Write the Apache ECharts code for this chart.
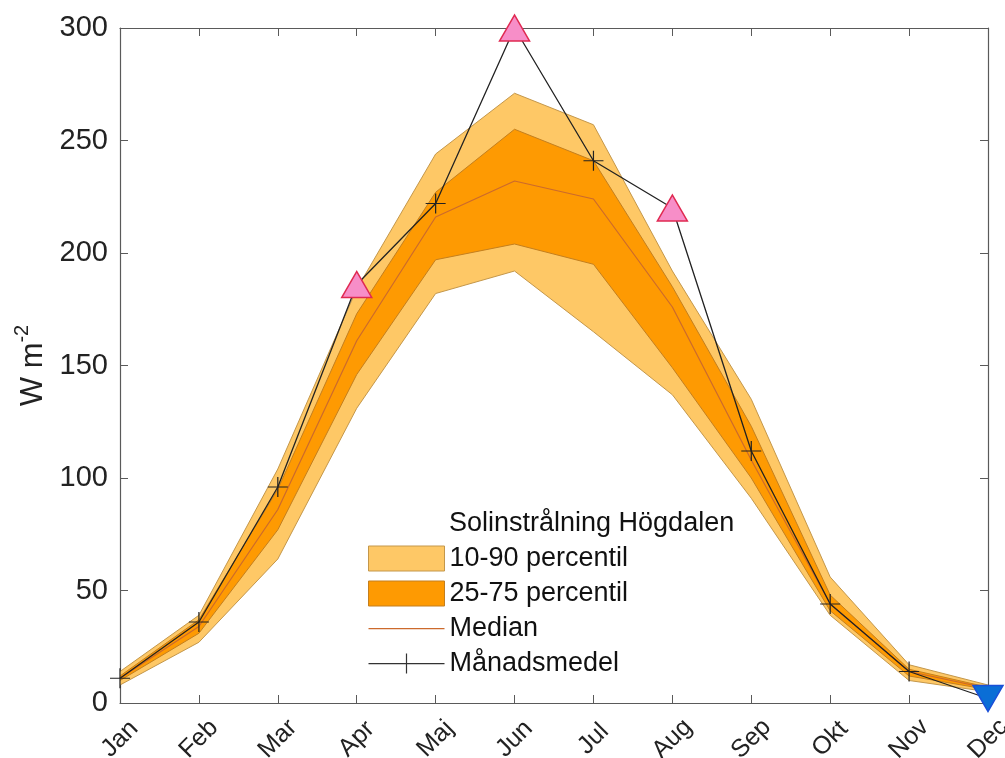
<!DOCTYPE html>
<html>
<head>
<meta charset="utf-8">
<script src="https://cdn.jsdelivr.net/npm/echarts@6/dist/echarts.min.js"></script>
<style>
html,body{margin:0;padding:0;background:#fff;overflow:hidden;}
#chart{width:1005px;height:758px;}
</style>
</head>
<body>
<div id="chart"></div>
<script>
const months = ['Jan','Feb','Mar','Apr','Maj','Jun','Jul','Aug','Sep','Okt','Nov','Dec'];
const yTicks = [0, 50, 100, 150, 200, 250, 300];
const p10    = [8, 27, 64, 131, 182, 192, 165, 137, 91, 39, 10, 5];
const p25    = [10, 31, 77, 146, 197, 204, 195, 149, 100, 41, 12, 6];
const median = [11, 34, 86, 161, 216, 232, 224, 176, 108, 44, 14, 6.5];
const p75    = [12, 37, 95, 173, 227, 255, 241, 185, 123, 48, 15, 7];
const p90    = [14, 39, 104, 184, 244, 271, 257, 192, 135, 56, 17, 8];
const mean   = [11, 36, 96, 186, 222, 300, 241, 220, 112, 44, 14, 2];
const recordHigh = ['Apr', 'Jun', 'Aug'];
const recordLow  = ['Dec'];

const FONT = '"Liberation Sans", Arial, Helvetica, sans-serif';
const LIGHT = '#FEC866';
const DARK = '#FE9A02';
const EDGE_OUT = '#C4974A';
const EDGE_IN = '#C47F1E';
const MED = '#CC6A2C';
const AXIS = '#5a5a5a';
const PLUS = 'path://M9.4,0L10.6,0L10.6,20L9.4,20Z M0,9.4L20,9.4L20,10.6L0,10.6Z';

const outerDiff = p90.map((v, i) => v - p10[i]);
const innerDiff = p75.map((v, i) => v - p25[i]);

const meanData = mean.map((v, i) => {
  const m = months[i];
  if (recordHigh.includes(m)) {
    return {value: v, symbol: 'triangle', symbolSize: [30, 26],
      itemStyle: {color: '#F78EC8', borderColor: '#E02A52', borderWidth: 1.5}};
  }
  if (recordLow.includes(m)) {
    return {value: v, symbol: 'triangle', symbolRotate: 180, symbolSize: [30, 26],
      itemStyle: {color: '#0A6ED6', borderColor: '#1A4FD8', borderWidth: 1.5}};
  }
  return {value: v};
});

const chart = echarts.init(document.getElementById('chart'), null, {renderer: 'canvas'});
const tickCommon = {show: true, inside: true, length: 8, lineStyle: {color: AXIS, width: 1}};
const lineCommon = {show: true, onZero: false, lineStyle: {color: AXIS, width: 1.2}};

chart.setOption({
  animation: false,
  backgroundColor: '#fff',
  textStyle: {fontFamily: FONT},
  title: {
    text: 'Solinstrålning Högdalen',
    left: 443, top: 510, padding: [0, 0, 0, 6],
    textStyle: {fontFamily: FONT, fontSize: 27, fontWeight: 'normal', color: '#111'}
  },
  legend: {
    orient: 'vertical',
    left: 368, top: 545,
    padding: 0,
    itemWidth: 76, itemHeight: 25, itemGap: 8,
    textStyle: {fontFamily: FONT, fontSize: 27, color: '#111'},
    selectedMode: false,
    data: [
      {name: '10-90 percentil', icon: 'rect', itemStyle: {color: LIGHT, borderColor: EDGE_OUT, borderWidth: 1}},
      {name: '25-75 percentil', icon: 'rect', itemStyle: {color: DARK, borderColor: EDGE_IN, borderWidth: 1}},
      {name: 'Median', icon: 'path://M0,0L0,0Z M0,12L76,12L76,13.2L0,13.2Z M76,25L76,25Z', itemStyle: {color: MED, borderWidth: 0}},
      {name: 'Månadsmedel', icon: 'path://M0,0L0,0Z M0,12L76,12L76,13.2L0,13.2Z M37.4,2.5L38.6,2.5L38.6,22.5L37.4,22.5Z M76,25L76,25Z', itemStyle: {color: '#333', borderWidth: 0}}
    ]
  },
  grid: {left: 120, top: 28, right: 17, bottom: 55, containLabel: false, outerBoundsMode: 'none'},
  xAxis: [
    {
      type: 'category', data: months, boundaryGap: false, position: 'bottom',
      axisLine: lineCommon, axisTick: Object.assign({}, tickCommon, {alignWithLabel: true}),
      axisLabel: {show: true, rotate: 45, align: 'center', verticalAlign: 'middle', margin: 36,
        fontFamily: FONT, fontSize: 25, color: '#222', interval: 0},
      splitLine: {show: false}
    },
    {
      type: 'category', data: months, boundaryGap: false, position: 'top',
      axisLine: lineCommon, axisTick: tickCommon, axisLabel: {show: false}, splitLine: {show: false}
    }
  ],
  yAxis: [
    {
      type: 'value', min: yTicks[0], max: yTicks[yTicks.length - 1], interval: 50, position: 'left',
      axisLine: lineCommon, axisTick: tickCommon,
      axisLabel: {fontFamily: FONT, fontSize: 29, color: '#222', margin: 12},
      splitLine: {show: false},
      name: '{a|W m}{b|-2}',
      nameLocation: 'middle', nameGap: 66, nameRotate: 90,
      nameTextStyle: {
        rich: {
          a: {fontFamily: FONT, fontSize: 31, color: '#222', lineHeight: 36, verticalAlign: 'bottom'},
          b: {fontFamily: FONT, fontSize: 20, color: '#222', lineHeight: 36, verticalAlign: 'top', padding: [0, 0, 16, 0]}
        }
      }
    },
    {
      type: 'value', min: yTicks[0], max: yTicks[yTicks.length - 1], interval: 50, position: 'right',
      axisLine: lineCommon, axisTick: tickCommon, axisLabel: {show: false}, splitLine: {show: false}
    }
  ],
  series: [
    {name: 'p10', type: 'line', stack: 'outer', data: p10, symbol: 'none', silent: true,
      lineStyle: {color: EDGE_OUT, width: 1}, z: 1},
    {name: '10-90 percentil', type: 'line', stack: 'outer', data: outerDiff, symbol: 'none', silent: true,
      lineStyle: {color: EDGE_OUT, width: 1}, itemStyle: {color: LIGHT},
      areaStyle: {color: LIGHT, opacity: 1}, z: 1},
    {name: 'p25', type: 'line', stack: 'inner', data: p25, symbol: 'none', silent: true,
      lineStyle: {color: EDGE_IN, width: 1}, z: 2},
    {name: '25-75 percentil', type: 'line', stack: 'inner', data: innerDiff, symbol: 'none', silent: true,
      lineStyle: {color: EDGE_IN, width: 1}, itemStyle: {color: DARK},
      areaStyle: {color: DARK, opacity: 1}, z: 2},
    {name: 'Median', type: 'line', data: median, symbol: 'none', silent: true,
      lineStyle: {color: MED, width: 1.2}, itemStyle: {color: MED}, z: 3},
    {name: 'Månadsmedel', type: 'line', data: meanData, silent: true,
      symbol: PLUS, symbolSize: 20, showAllSymbol: true,
      lineStyle: {color: '#222', width: 1.3}, itemStyle: {color: '#222'}, z: 4}
  ]
});
</script>
</body>
</html>
